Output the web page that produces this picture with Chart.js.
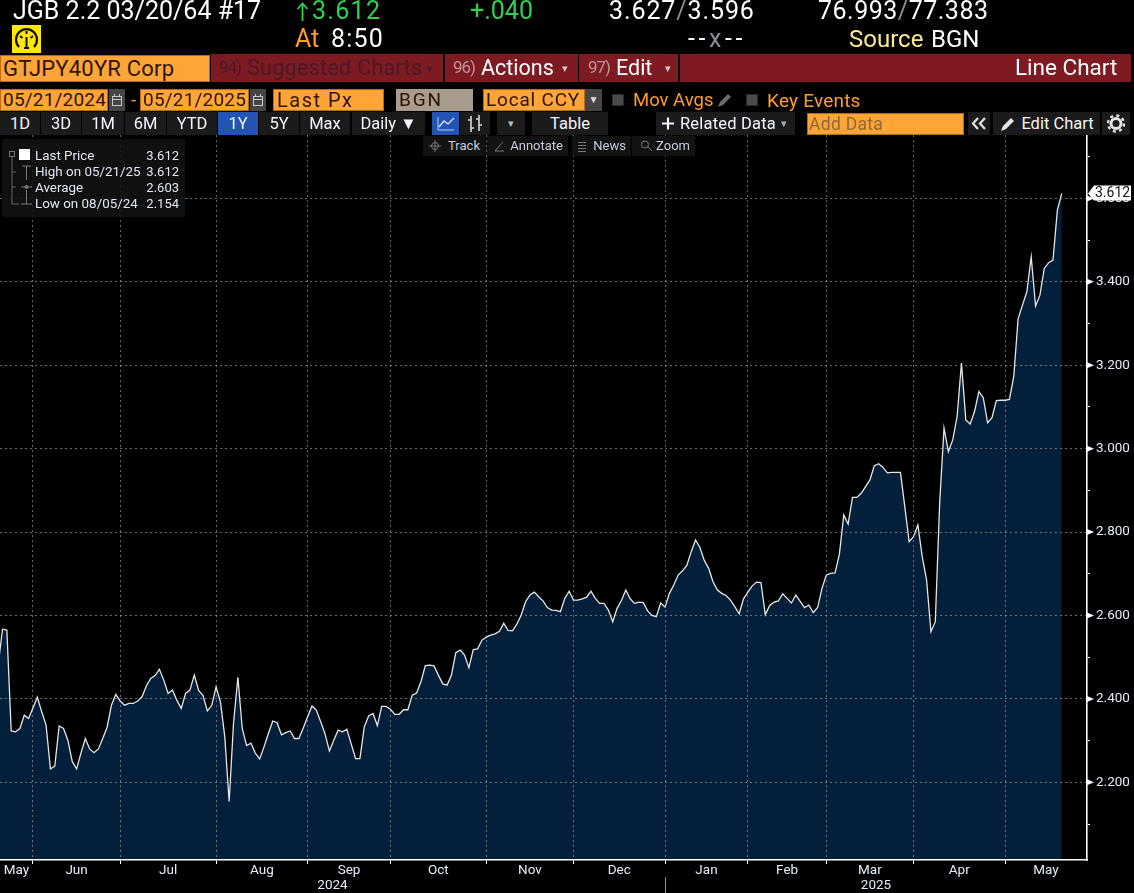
<!DOCTYPE html>
<html>
<head>
<meta charset="utf-8">
<title>GTJPY40YR Corp</title>
<script src="https://cdn.jsdelivr.net/npm/chart.js@4"></script>
<style>
  html, body { margin: 0; padding: 0; background: #000; width: 1134px; height: 893px; overflow: hidden; }
  #screen { position: relative; width: 1134px; height: 893px; background: #000; font-family: Roboto, sans-serif; color: #fff; }
  canvas { position: absolute; left: 0; top: 0; }
  .a { position: absolute; white-space: nowrap; }
  .hd { font-size: 25px; line-height: 26px; top: -2px; }
  .hd2 { font-size: 25px; line-height: 26px; top: 26px; }
  .org { color: #ff9c2a; }
  .box { background: #ffa436; color: #2b1400; font-size: 19px; line-height: 22px; height: 22px; overflow: hidden; box-shadow: inset 0 0 0 1px #b86c12; padding-left: 4px; box-sizing: border-box; letter-spacing: .5px; }
  .mar { background: #7d1a22; height: 28px; top: 54px; }
  .mt { font-size: 21.5px; line-height: 27px; top: 54px; }
  .dim { color: #bb9698; font-size: 17px; line-height: 27px; top: 54px; letter-spacing: -1px; }
  .car { color: #d8c6c6; font-size: 11px; line-height: 27px; top: 55px; }
  .btn { background: #1b1b1b; top: 112px; height: 23px; line-height: 23px; font-size: 16.5px; text-align: center; color: #f2f6ff; }
  .tool { background: #121212; top: 136px; height: 20px; line-height: 20px; font-size: 13px; color: #c4ccd6; text-align: right; padding-right: 5px; box-sizing: border-box; }
  .chk { background: #4a4a4a; width: 12px; height: 12px; top: 94px; box-shadow: inset 0 0 0 1px #2c2c2c; }
  .ico { background: #454545; top: 89px; height: 22px; }
  .leg { font-size: 13.4px; line-height: 16px; color: #dfe7f2; top: 148px; }
  svg { position: absolute; overflow: visible; }
</style>
</head>
<body>
<div id="screen">
  <canvas id="chart" width="1134" height="893"></canvas>

  <!-- quote header -->
  <div class="a hd" style="left:13px">JGB 2.2 03/20/64 #17</div>
  <svg style="left:296px;top:2px" width="14" height="20"><path d="M6.500 19V2M1.500 7L6.500 1.500L11.500 7" fill="none" stroke="#2ed24f" stroke-width="1.800"/></svg>
  <div class="a hd" style="left:312px;color:#2ed24f;letter-spacing:1.300px">3.612</div>
  <div class="a hd" style="left:470px;color:#2ed24f">+.040</div>
  <div class="a hd" style="left:609px;letter-spacing:.9px">3.627<span style="color:#8a8f96">/</span>3.596</div>
  <div class="a hd" style="left:818px;letter-spacing:.5px">76.993<span style="color:#8a8f96">/</span>77.383</div>

  <div class="a" style="left:12px;top:25px;width:29px;height:28px;background:#ffe800"></div>
  <svg style="left:12px;top:25px" width="29" height="28" viewBox="0 0 29 28">
    <path d="M7 22 A10.500 10.500 0 1 1 22 22" fill="none" stroke="#111" stroke-width="2.200"/>
    <path d="M14.500 12V23M12 23H17M8 11L10.500 13M21 11L18.500 13M14.500 6V9" stroke="#111" stroke-width="2"/>
  </svg>
  <div class="a hd2 org" style="left:295px">At</div>
  <div class="a hd2" style="left:331px;letter-spacing:1.200px">8:50</div>
  <div class="a hd2" style="left:688px;letter-spacing:3.600px">--<span style="color:#8a8f96">x</span>--</div>
  <div class="a hd2" style="left:849px;font-size:24px;color:#ffe98a">Source</div>
  <div class="a hd2" style="left:931px;font-size:24px">BGN</div>

  <!-- security and menu bar -->
  <div class="a box" style="left:0;top:55px;width:210px;height:27px;line-height:27px;font-size:22px;padding-left:3px;letter-spacing:.2px">GTJPY40YR Corp</div>
  <div class="a mar" style="left:211px;width:232px"></div>
  <div class="a dim" style="left:219px;color:#4c1a24">94)</div>
  <div class="a mt" style="left:247px;color:#4c1a24;letter-spacing:.3px">Suggested Charts</div>
  <div class="a car" style="left:427px;color:#4c1a24">▾</div>
  <div class="a mar" style="left:445px;width:133px"></div>
  <div class="a dim" style="left:453px">96)</div>
  <div class="a mt" style="left:481px">Actions</div>
  <div class="a car" style="left:562px">▾</div>
  <div class="a mar" style="left:579px;width:99px"></div>
  <div class="a dim" style="left:588px">97)</div>
  <div class="a mt" style="left:616px">Edit</div>
  <div class="a car" style="left:665px">▾</div>
  <div class="a mar" style="left:680px;width:451px"></div>
  <div class="a mt" style="left:1015px;font-size:22.5px">Line Chart</div>

  <!-- date range row -->
  <div class="a box" style="left:0;top:89px;width:108px;padding-left:3px;letter-spacing:.2px">05/21/2024</div>
  <div class="a ico" style="left:109px;width:16px"></div>
  <div class="a org" style="left:131px;top:89px;font-size:19px;line-height:22px">-</div>
  <div class="a box" style="left:140px;top:89px;width:109px;padding-left:3px;letter-spacing:.2px">05/21/2025</div>
  <div class="a ico" style="left:250px;width:16px"></div>
  <svg style="left:109px;top:89px" width="16" height="22"><rect x="3.500" y="7.500" width="9" height="9" fill="none" stroke="#c8c8c8"/><path d="M3.500 10.500H12.500M5.500 5V8M10.500 5V8" stroke="#c8c8c8"/></svg>
  <svg style="left:250px;top:89px" width="16" height="22"><rect x="3.500" y="7.500" width="9" height="9" fill="none" stroke="#c8c8c8"/><path d="M3.500 10.500H12.500M5.500 5V8M10.500 5V8" stroke="#c8c8c8"/></svg>
  <div class="a box" style="left:273px;top:89px;width:111px;font-size:20px;letter-spacing:1.500px">Last Px</div>
  <div class="a box" style="left:396px;top:89px;width:77px;background:#a99c8e;padding-left:3px;box-shadow:none;letter-spacing:1.800px">BGN</div>
  <div class="a box" style="left:483px;top:89px;width:102px;padding-left:3px;letter-spacing:.8px">Local CCY</div>
  <div class="a ico" style="left:585px;width:17px;text-align:center;font-size:10px;line-height:22px;color:#ddd">▼</div>
  <div class="a chk" style="left:612px"></div>
  <div class="a org" style="left:633px;top:89px;font-size:18.500px;line-height:23px">Mov Avgs</div>
  <svg style="left:716px;top:92px" width="16" height="16"><path d="M2 15 L4 10 L12 2 L15 5 L7 13 Z" fill="#6a6a6a"/></svg>
  <div class="a chk" style="left:746px"></div>
  <div class="a org" style="left:767px;top:89px;font-size:19px;line-height:23px;letter-spacing:.2px">Key Events</div>

  <!-- range and chart-type toolbar -->
  <div class="a btn" style="left:0;width:40px">1D</div>
  <div class="a btn" style="left:41px;width:40px">3D</div>
  <div class="a btn" style="left:82px;width:42px">1M</div>
  <div class="a btn" style="left:125px;width:41px">6M</div>
  <div class="a btn" style="left:167px;width:50px">YTD</div>
  <div class="a btn" style="left:218px;width:40px;background:#2354b4">1Y</div>
  <div class="a btn" style="left:259px;width:40px">5Y</div>
  <div class="a btn" style="left:300px;width:50px">Max</div>
  <div class="a btn" style="left:352px;width:73px">Daily ▼</div>
  <div class="a btn" style="left:432px;width:27px;background:#2354b4"></div>
  <svg style="left:432px;top:112px" width="27" height="23"><path d="M6 5V18H22" fill="none" stroke="#b9cdf0"/><path d="M7 15L12 9L16 12L22 6" fill="none" stroke="#dfe9fb" stroke-width="1.300"/></svg>
  <div class="a btn" style="left:460px;width:30px"></div>
  <svg style="left:460px;top:112px" width="30" height="23"><path d="M11 4V20M19 3V19M8 8H11M11 16H14M16 7H19M19 13H22" fill="none" stroke="#d8d8d8" stroke-width="1.600"/></svg>
  <div class="a btn" style="left:497px;width:28px;font-size:11px;color:#bbb">▾</div>
  <div class="a btn" style="left:532px;width:76px">Table</div>
  <div class="a btn" style="left:656px;width:139px"></div>
  <svg style="left:661px;top:116px" width="15" height="15"><path d="M1 7.500H13M7 1.500V13.500" stroke="#f2f6ff" stroke-width="2.200"/></svg>
  <div class="a btn" style="left:680px;background:none;letter-spacing:.2px">Related Data</div>
  <div class="a btn" style="left:781px;background:none;font-size:11px;color:#aaa">▾</div>
  <div class="a box" style="left:807px;top:113px;width:157px;padding-left:2px;color:#8a6a3c;font-size:17.500px;letter-spacing:.3px">Add Data</div>
  <div class="a btn" style="left:968px;width:22px"></div>
  <svg style="left:968px;top:112px" width="22" height="23"><path d="M10 6L5 11.500L10 17M17 6L12 11.500L17 17" fill="none" stroke="#dcdcdc" stroke-width="2.400"/></svg>
  <div class="a btn" style="left:993px;width:107px;padding-left:22px;box-sizing:border-box">Edit Chart</div>
  <svg style="left:999px;top:115px" width="16" height="17"><path d="M2 16 L4 11 L12 3 L15 6 L7 14 Z" fill="#e4e4e4"/></svg>
  <div class="a btn" style="left:1102px;width:28px"></div>
  <svg style="left:1102px;top:112px" width="28" height="23"><circle cx="14" cy="11.500" r="5" fill="none" stroke="#e4e4e4" stroke-width="3"/><circle cx="14" cy="11.500" r="8" fill="none" stroke="#e4e4e4" stroke-width="2.400" stroke-dasharray="3 3.300"/></svg>

  <div class="a tool" style="left:423px;width:62px">Track</div>
  <div class="a tool" style="left:487px;width:81px">Annotate</div>
  <div class="a tool" style="left:572px;width:59px">News</div>
  <div class="a tool" style="left:632px;width:63px">Zoom</div>
  <svg style="left:423px;top:136px" width="22" height="20"><circle cx="12" cy="10" r="3.500" fill="none" stroke="#777"/><path d="M12 4V16M6 10H18" stroke="#777"/></svg>
  <svg style="left:492px;top:136px" width="18" height="20"><path d="M3 15L11 6M3 15H12" stroke="#777" fill="none"/></svg>
  <svg style="left:575px;top:136px" width="18" height="20"><path d="M3 6.500H11M3 9.500H11M3 12.500H11M3 15.500H11" stroke="#777"/></svg>
  <svg style="left:638px;top:136px" width="18" height="20"><circle cx="7" cy="8.500" r="3.500" fill="none" stroke="#777"/><path d="M10 11L14 15" stroke="#777"/></svg>

  <!-- statistics legend -->
  <div class="a" style="left:2px;top:139px;width:183px;height:78px;background:rgba(18,18,18,.88);border-radius:3px"></div>
  <svg style="left:2px;top:139px" width="40" height="78">
    <rect x="7.500" y="12.500" width="5" height="5" fill="none" stroke="#777"/>
    <path d="M10 18V65H17M10 33H14M10 48H14" stroke="#666" fill="none"/>
    <rect x="17" y="10" width="11" height="11" fill="#fff"/>
    <path d="M20 27H29M24.500 27V41M19 48H30M19 65H30M24.500 51V65" stroke="#777" fill="none"/>
    <circle cx="24.500" cy="48" r="2" fill="#777"/>
  </svg>
  <div class="a leg" id="legendLabels" style="left:35px"></div>
  <div class="a leg" id="legendValues" style="left:130px;width:49px;text-align:right;font-size:13px"></div>
</div>

<script>
// GTJPY40YR Corp: last price per trading day, 05/21/2024 to 05/21/2025
const lastPx = [
  2.470, 2.480, 2.567, 2.565, 2.323, 2.321, 2.329, 2.361, 2.353, 2.379,
  2.404, 2.369, 2.337, 2.232, 2.239, 2.335, 2.329, 2.301, 2.250, 2.232,
  2.270, 2.305, 2.280, 2.271, 2.280, 2.305, 2.332, 2.385, 2.411, 2.395,
  2.385, 2.389, 2.389, 2.395, 2.405, 2.431, 2.449, 2.456, 2.471, 2.445,
  2.413, 2.421, 2.397, 2.377, 2.413, 2.421, 2.457, 2.420, 2.408, 2.371,
  2.384, 2.429, 2.393, 2.309, 2.154, 2.341, 2.452, 2.329, 2.288, 2.294,
  2.270, 2.256, 2.285, 2.317, 2.347, 2.343, 2.314, 2.319, 2.323, 2.305,
  2.305, 2.330, 2.357, 2.383, 2.373, 2.345, 2.316, 2.275, 2.301, 2.325,
  2.321, 2.327, 2.292, 2.257, 2.257, 2.333, 2.359, 2.365, 2.336, 2.382,
  2.382, 2.375, 2.363, 2.363, 2.374, 2.374, 2.409, 2.414, 2.441, 2.480,
  2.481, 2.479, 2.457, 2.436, 2.433, 2.457, 2.511, 2.517, 2.505, 2.475,
  2.518, 2.520, 2.541, 2.548, 2.553, 2.556, 2.562, 2.581, 2.564, 2.563,
  2.579, 2.601, 2.633, 2.649, 2.656, 2.645, 2.635, 2.619, 2.613, 2.612,
  2.609, 2.641, 2.658, 2.637, 2.637, 2.640, 2.644, 2.658, 2.641, 2.629,
  2.629, 2.613, 2.585, 2.617, 2.636, 2.661, 2.640, 2.629, 2.632, 2.631,
  2.611, 2.600, 2.597, 2.630, 2.620, 2.653, 2.673, 2.697, 2.707, 2.720,
  2.753, 2.781, 2.763, 2.732, 2.713, 2.681, 2.661, 2.653, 2.648, 2.637,
  2.621, 2.604, 2.640, 2.656, 2.671, 2.680, 2.679, 2.602, 2.624, 2.632,
  2.635, 2.652, 2.641, 2.630, 2.649, 2.634, 2.619, 2.625, 2.607, 2.619,
  2.665, 2.697, 2.701, 2.702, 2.747, 2.841, 2.819, 2.883, 2.883, 2.893,
  2.909, 2.925, 2.959, 2.964, 2.955, 2.942, 2.943, 2.943, 2.943, 2.861,
  2.777, 2.789, 2.817, 2.741, 2.685, 2.561, 2.585, 2.870, 3.049, 2.993,
  3.021, 3.077, 3.205, 3.069, 3.059, 3.089, 3.137, 3.122, 3.062, 3.074,
  3.115, 3.116, 3.116, 3.118, 3.173, 3.312, 3.344, 3.376, 3.460, 3.342,
  3.368, 3.432, 3.446, 3.452, 3.572, 3.612
];

// position in lastPx of the first trading day of each month
const monthStarts = [9, 29, 51, 72, 91, 113, 133, 154, 173, 191, 211, 232];
const monthNames = ['May', 'Jun', 'Jul', 'Aug', 'Sep', 'Oct', 'Nov', 'Dec', 'Jan', 'Feb', 'Mar', 'Apr', 'May'];
const yearNames = ['2024', '2025'];
const yearBreak = 154;

const priceTicks = [2.1, 2.2, 2.3, 2.4, 2.5, 2.6, 2.7, 2.8, 2.9, 3.0, 3.1, 3.2, 3.3, 3.4, 3.5, 3.6, 3.7];
const priceTickLabels = ['', '2.200', '', '2.400', '', '2.600', '', '2.800', '', '3.000', '', '3.200', '', '3.400', '', '3.600', ''];

const legendLabels = ['Last Price', 'High on 05/21/25', 'Average', 'Low on 08/05/24'];
const legendValues = ['3.612', '3.612', '2.603', '2.154'];

document.getElementById('legendLabels').innerHTML = legendLabels.join('<br>');
document.getElementById('legendValues').innerHTML = legendValues.join('<br>');

const xMin = 1.43, xMax = 250.8;
const yMin = 2.0137, yMax = 3.752;

// month names sit halfway between the month boundaries, year names on a second
// line halfway between the year boundaries
const edges = [xMin, ...monthStarts, xMax];
const monthMids = monthNames.map((_, i) => (edges[i] + edges[i + 1]) / 2);
const yearMids = [(xMin + yearBreak) / 2, (yearBreak + xMax) / 2];
const dateTicks = [...monthMids, ...yearMids];
const dateLabels = [...monthNames, ...yearNames.map(y => ['', y])];

const labelFont = { family: 'Roboto, sans-serif', size: 13.5 };
const labelColor = '#e4eefb';
const gridColor = 'rgba(190,190,190,.55)';

// arrow marks on the price axis, the year separator and the flag holding the latest value
const axisMarks = {
  id: 'axisMarks',
  afterDraw(chart) {
    const { ctx, scales: { x, y } } = chart;
    ctx.save();
    const bx = Math.round(x.getPixelForValue(yearBreak)) + 0.5;
    ctx.strokeStyle = '#8a8a8a';
    ctx.beginPath();
    ctx.moveTo(bx, 877);
    ctx.lineTo(bx, chart.height);
    ctx.stroke();
    ctx.fillStyle = '#fff';
    priceTicks.forEach((v, i) => {
      if (!priceTickLabels[i]) return;
      const py = y.getPixelForValue(v);
      ctx.beginPath();
      ctx.moveTo(y.left, py - 3);
      ctx.lineTo(y.left + 7, py);
      ctx.lineTo(y.left, py + 3);
      ctx.closePath();
      ctx.fill();
    });
    const last = lastPx[lastPx.length - 1];
    const py = y.getPixelForValue(last);
    ctx.beginPath();
    ctx.moveTo(y.left + 1, py);
    ctx.lineTo(y.left + 7, py - 8);
    ctx.lineTo(y.left + 44, py - 8);
    ctx.lineTo(y.left + 44, py + 7);
    ctx.lineTo(y.left + 7, py + 7);
    ctx.closePath();
    ctx.fill();
    ctx.fillStyle = '#101010';
    ctx.font = '14px Roboto, sans-serif';
    ctx.textBaseline = 'middle';
    ctx.textAlign = 'left';
    ctx.fillText(last.toFixed(3), y.left + 8, py + 0.5);
    ctx.restore();
  }
};

new Chart(document.getElementById('chart'), {
  type: 'line',
  data: {
    datasets: [{
      data: lastPx.map((v, i) => ({ x: i, y: v })),
      borderColor: '#e6e6e6',
      borderWidth: 1.3,
      backgroundColor: '#031f3b',
      fill: 'start',
      tension: 0,
      pointRadius: 0
    }]
  },
  plugins: [axisMarks],
  options: {
    responsive: false,
    animation: false,
    layout: { padding: { top: 135, left: 0, right: 0, bottom: 0 } },
    plugins: { legend: { display: false }, title: { display: false }, tooltip: { enabled: false } },
    scales: {
      x: {
        type: 'linear', position: 'bottom', weight: 0, min: xMin, max: xMax,
        afterBuildTicks: s => { s.ticks = monthStarts.map(value => ({ value })); },
        afterFit: s => { s.height = 4; },
        ticks: { callback: () => '', autoSkip: false, maxRotation: 0, padding: 0 },
        grid: { z: 1, color: gridColor, lineWidth: 1, tickColor: '#fff', tickLength: 4, tickBorderDash: [] },
        border: { dash: [2, 3], color: '#fff', width: 1.6, z: 1 }
      },
      xDates: {
        type: 'linear', position: 'bottom', weight: 1, min: xMin, max: xMax,
        afterBuildTicks: s => { s.ticks = dateTicks.map(value => ({ value })); },
        afterFit: s => { s.height = 29; },
        ticks: {
          callback: (v, i) => dateLabels[i], autoSkip: false, maxRotation: 0, padding: -0.5,
          color: labelColor, font: { ...labelFont, lineHeight: '15px' }
        },
        grid: { display: false, drawTicks: false },
        border: { display: false }
      },
      y: {
        type: 'linear', position: 'right', min: yMin, max: yMax,
        afterBuildTicks: s => { s.ticks = priceTicks.map(value => ({ value })); },
        afterFit: s => { s.width = 47; },
        ticks: {
          callback: (v, i) => priceTickLabels[i], autoSkip: false, padding: 6,
          color: labelColor, font: labelFont
        },
        grid: {
          z: 1, tickLength: 3, lineWidth: 1, tickBorderDash: [],
          color: c => (c.index % 2 === 1 ? gridColor : 'transparent'),
          tickColor: c => (c.index % 2 === 1 ? 'transparent' : '#fff')
        },
        border: { dash: [2, 3], color: '#fff', width: 1.6, z: 1 }
      }
    }
  }
});
</script>
</body>
</html>
